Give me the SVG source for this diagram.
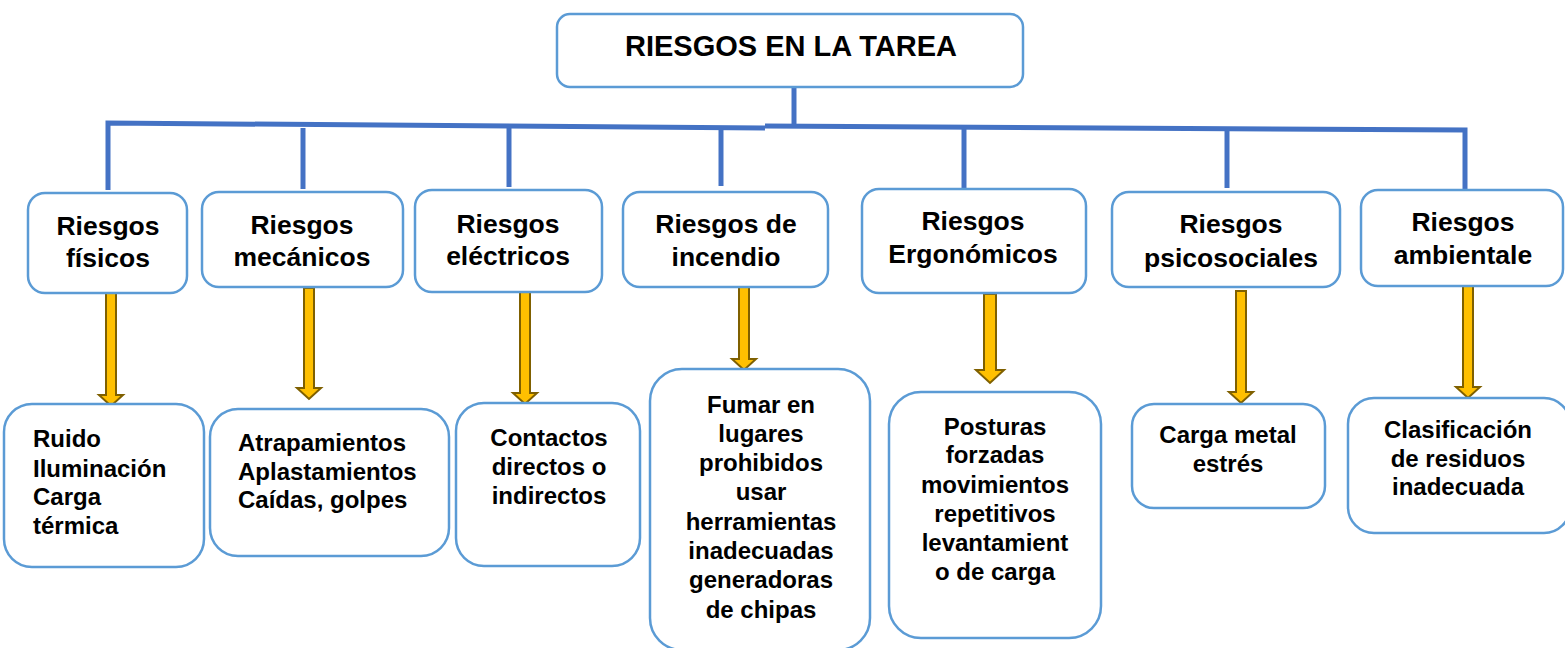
<svg xmlns="http://www.w3.org/2000/svg" width="1565" height="648" viewBox="0 0 1565 648">
<style>
.box{fill:#fff;stroke:#5B9BD5;stroke-width:2.5}
.conn{fill:none;stroke:#4472C4;stroke-width:5}
.arr{fill:#FFC000;stroke:#7F6000;stroke-width:2;stroke-linejoin:miter}
text{font-family:"Liberation Sans",Arial,sans-serif;font-weight:bold;fill:#000}
.t0{font-size:29px;text-anchor:middle}
.t1{font-size:26.5px;text-anchor:middle}
.t2{font-size:24px;text-anchor:middle}
.t2l{font-size:24px}
</style>
<defs>
<path id="ar" d="M-5,0 H5 V-11 H12 L0,0 L-12,-11 H-5 Z"/>
</defs>
<g id="connectors">
<polyline class="conn" points="108,190 108,123 765,128"/>
<polyline class="conn" points="765,126 1465,130 1465,190"/>
<line class="conn" x1="794" y1="87" x2="794" y2="127"/>
<line class="conn" x1="303" y1="128" x2="303" y2="189"/>
<line class="conn" x1="509" y1="127" x2="509" y2="187"/>
<line class="conn" x1="721" y1="128" x2="721" y2="186"/>
<line class="conn" x1="964" y1="127" x2="964" y2="189"/>
<line class="conn" x1="1227" y1="128" x2="1227" y2="188"/>
</g>
<g id="arrows">
<path class="arr" d="M106,293 H116 V395 H123 L111,406 L99,395 H106 Z"/>
<path class="arr" d="M304,288 H314 V388 H321 L309,399 L297,388 H304 Z"/>
<path class="arr" d="M520,292 H530 V393 H537 L525,404 L513,393 H520 Z"/>
<path class="arr" d="M739,286 H749 V359 H756 L744,370 L732,359 H739 Z"/>
<path class="arr" d="M984,294 H996 V370 H1004 L990,383 L976,370 H984 Z"/>
<path class="arr" d="M1236,291 H1246 V392 H1253 L1241,403 L1229,392 H1236 Z"/>
<path class="arr" d="M1463,285 H1473 V387 H1480 L1468,398 L1456,387 H1463 Z"/>
</g>
<g id="root">
<rect class="box" x="557" y="14" width="466" height="73" rx="13"/>
<text class="t0" x="791" y="56">RIESGOS EN LA TAREA</text>
</g>
<g id="n-fisicos">
<rect class="box" x="28" y="193" width="159" height="100" rx="17"/>
<text class="t1" x="108" y="235">Riesgos</text>
<text class="t1" x="108" y="267">físicos</text>
</g>
<g id="n-mecanicos">
<rect class="box" x="202" y="192" width="201" height="95" rx="17"/>
<text class="t1" x="302" y="234">Riesgos</text>
<text class="t1" x="302" y="266">mecánicos</text>
</g>
<g id="n-electricos">
<rect class="box" x="415" y="190" width="187" height="102" rx="17"/>
<text class="t1" x="508" y="233">Riesgos</text>
<text class="t1" x="508" y="265">eléctricos</text>
</g>
<g id="n-incendio">
<rect class="box" x="623" y="192" width="205" height="95" rx="17"/>
<text class="t1" x="726" y="233">Riesgos de</text>
<text class="t1" x="726" y="266">incendio</text>
</g>
<g id="n-ergonomicos">
<rect class="box" x="862" y="189" width="224" height="104" rx="17"/>
<text class="t1" x="973" y="230">Riesgos</text>
<text class="t1" x="973" y="263">Ergonómicos</text>
</g>
<g id="n-psicosociales">
<rect class="box" x="1112" y="192" width="228" height="95" rx="17"/>
<text class="t1" x="1231" y="233">Riesgos</text>
<text class="t1" x="1231" y="267">psicosociales</text>
</g>
<g id="n-ambientale">
<rect class="box" x="1361" y="190" width="202" height="96" rx="17"/>
<text class="t1" x="1463" y="231">Riesgos</text>
<text class="t1" x="1463" y="264">ambientale</text>
</g>
<g id="d-fisicos">
<rect class="box" x="4" y="404" width="200" height="163" rx="28"/>
<text class="t2l" x="33" y="447">Ruido</text>
<text class="t2l" x="33" y="477">Iluminación</text>
<text class="t2l" x="33" y="505">Carga</text>
<text class="t2l" x="33" y="534">térmica</text>
</g>
<g id="d-mecanicos">
<rect class="box" x="210" y="409" width="239" height="147" rx="28"/>
<text class="t2l" x="238" y="451">Atrapamientos</text>
<text class="t2l" x="238" y="480">Aplastamientos</text>
<text class="t2l" x="238" y="508">Caídas, golpes</text>
</g>
<g id="d-electricos">
<rect class="box" x="456" y="403" width="184" height="163" rx="28"/>
<text class="t2" x="549" y="446">Contactos</text>
<text class="t2" x="549" y="475">directos o</text>
<text class="t2" x="549" y="504">indirectos</text>
</g>
<g id="d-incendio">
<rect class="box" x="650" y="369" width="220" height="281" rx="32"/>
<text class="t2" x="761" y="413">Fumar en</text>
<text class="t2" x="761" y="442">lugares</text>
<text class="t2" x="761" y="471">prohibidos</text>
<text class="t2" x="761" y="500">usar</text>
<text class="t2" x="761" y="530">herramientas</text>
<text class="t2" x="761" y="559">inadecuadas</text>
<text class="t2" x="761" y="588">generadoras</text>
<text class="t2" x="761" y="618">de chipas</text>
</g>
<g id="d-ergonomicos">
<rect class="box" x="889" y="392" width="212" height="246" rx="32"/>
<text class="t2" x="995" y="435">Posturas</text>
<text class="t2" x="995" y="463">forzadas</text>
<text class="t2" x="995" y="493">movimientos</text>
<text class="t2" x="995" y="522">repetitivos</text>
<text class="t2" x="995" y="551">levantamient</text>
<text class="t2" x="995" y="580">o de carga</text>
</g>
<g id="d-psicosociales">
<rect class="box" x="1132" y="404" width="193" height="104" rx="22"/>
<text class="t2" x="1228" y="443">Carga metal</text>
<text class="t2" x="1228" y="472">estrés</text>
</g>
<g id="d-ambientale">
<rect class="box" x="1348" y="398" width="222" height="135" rx="26"/>
<text class="t2" x="1458" y="438">Clasificación</text>
<text class="t2" x="1458" y="467">de residuos</text>
<text class="t2" x="1458" y="495">inadecuada</text>
</g>
</svg>
